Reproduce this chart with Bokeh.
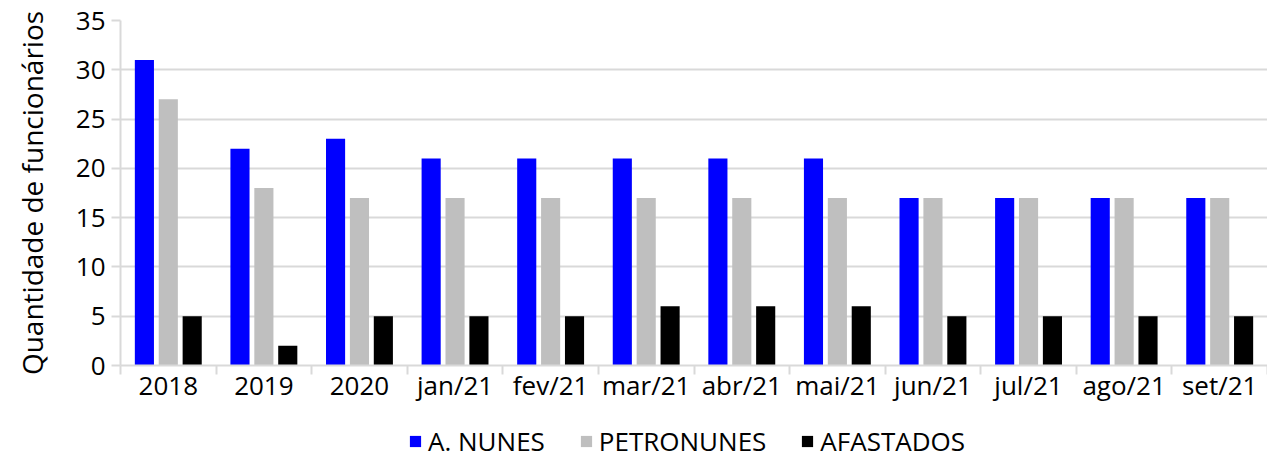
from bokeh.plotting import figure
from bokeh.models import ColumnDataSource, Range1d, FixedTicker, Legend
from bokeh.layouts import column
from bokeh.transform import dodge
from bokeh.embed import file_html
from bokeh.resources import INLINE

categories = ["2018", "2019", "2020", "jan/21", "fev/21", "mar/21", "abr/21",
              "mai/21", "jun/21", "jul/21", "ago/21", "set/21"]
a_nunes = [31, 22, 23, 21, 21, 21, 21, 21, 17, 17, 17, 17]
petronunes = [27, 18, 17, 17, 17, 17, 17, 17, 17, 17, 17, 17]
afastados = [5, 2, 5, 5, 5, 6, 6, 6, 5, 5, 5, 5]
series_names = ["A. NUNES", "PETRONUNES", "AFASTADOS"]
series_cols = ["a", "p", "f"]
series_offsets = [-0.25, 0.0, 0.25]
series_colors = ["#0000ff", "#bfbfbf", "#000000"]
y_ticks = [0, 5, 10, 15, 20, 25, 30, 35]

idx = list(range(len(categories)))
source = ColumnDataSource(dict(x=idx, a=a_nunes, p=petronunes, f=afastados))

FONT = "Open Sans"
FS = "26px"
GRID = "#d9d9d9"

p = figure(width=1267, height=420, output_backend="svg",
           toolbar_location=None,
           x_range=Range1d(-0.5, len(categories) - 0.5), y_range=Range1d(0, 35))
p.min_border_left = 120
p.min_border_right = 0
p.min_border_top = 20
p.min_border_bottom = 55
p.outline_line_color = None
p.background_fill_color = "white"

for col, off, color in zip(series_cols, series_offsets, series_colors):
    p.vbar(x=dodge("x", off, range=p.x_range), top=col, width=0.2, source=source,
           fill_color=color, line_color=None)

# x axis
xa = p.xaxis[0]
xa.ticker = FixedTicker(ticks=idx, minor_ticks=[i - 0.5 for i in range(len(categories) + 1)])
xa.major_label_overrides = {i: c for i, c in enumerate(categories)}
xa.major_tick_out = 0
xa.major_tick_in = 0
xa.minor_tick_out = 9
xa.minor_tick_in = 0
xa.minor_tick_line_color = GRID
xa.minor_tick_line_width = 2
xa.axis_line_color = GRID
xa.axis_line_width = 2
xa.major_label_text_font = FONT
xa.major_label_text_font_size = FS
xa.major_label_text_color = "black"
xa.major_label_standoff = -8
p.xgrid.visible = False

# y axis
ya = p.yaxis[0]
ya.ticker = FixedTicker(ticks=y_ticks)
ya.axis_line_color = GRID
ya.axis_line_width = 2
ya.major_tick_out = 9
ya.major_tick_in = 0
ya.major_tick_line_color = GRID
ya.major_tick_line_width = 2
ya.minor_tick_line_color = None
ya.major_label_text_font = FONT
ya.major_label_text_font_size = FS
ya.major_label_text_color = "black"
ya.major_label_standoff = 6
ya.axis_label = "Quantidade de funcionários"
ya.axis_label_text_font = FONT
ya.axis_label_text_font_size = "28px"
ya.axis_label_text_font_style = "normal"
ya.axis_label_text_color = "black"
ya.axis_label_standoff = 22
p.ygrid.grid_line_color = GRID
p.ygrid.grid_line_width = 2

# legend strip (its own figure below the chart; the series are drawn out of view
# there so that the legend swatches use the same glyph styles)
lg = figure(width=1267, height=39, output_backend="svg", toolbar_location=None,
            x_range=Range1d(-0.5, len(categories) - 0.5), y_range=Range1d(100, 101))
lg.min_border = 0
lg.axis.visible = False
lg.grid.visible = False
lg.outline_line_color = None
items = []
for name, col, off, color in zip(series_names, series_cols, series_offsets, series_colors):
    r = lg.vbar(x=dodge("x", off, range=lg.x_range), top=col, width=0.2, source=source,
                fill_color=color, line_color=None)
    items.append((name, [r]))

legend = Legend(items=items, orientation="horizontal", location=(288, 0))
legend.label_text_font = FONT
legend.label_text_font_size = FS
legend.label_text_color = "black"
legend.glyph_width = 14
legend.glyph_height = 14
legend.label_standoff = 6
legend.spacing = 34
legend.padding = 0
legend.margin = 0
legend.border_line_color = None
legend.background_fill_alpha = 0
lg.add_layout(legend, "center")

open("out.html", "w").write(file_html(column(p, lg), INLINE))
